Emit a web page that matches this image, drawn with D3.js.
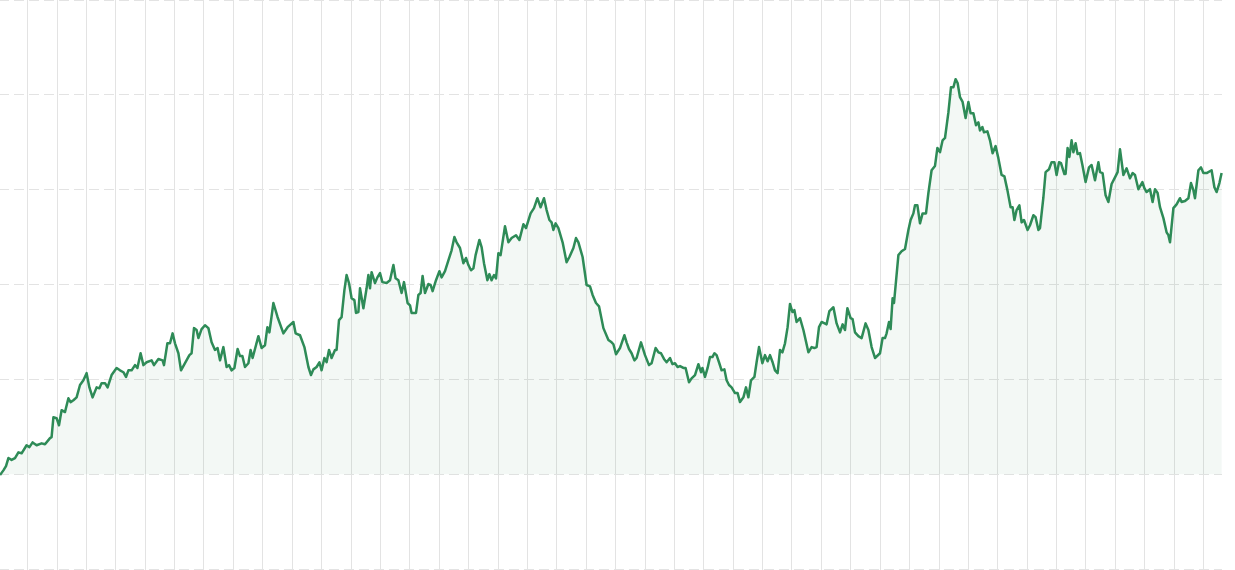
<!DOCTYPE html>
<html>
<head>
<meta charset="utf-8">
<script src="https://cdn.jsdelivr.net/npm/d3@7"></script>
<style>
  body { margin: 0; background: #fff; }
  svg { display: block; }
</style>
</head>
<body>
<div id="chart"></div>
<script>
// trading day index of each reading
var days = [0, 1.7, 3, 4.2, 5.8, 7.5, 9.2, 10.8, 13.3, 14.7, 16.3, 18.3, 20.8, 22.5, 25, 25.8, 26.7, 28.3, 29.5, 30.8,
  32.5, 34.2, 35.3, 36.7, 38.3, 40, 41.7, 43.3, 44.7, 46.3, 48.3, 49.7, 50.8, 52.5, 53.8, 55.8, 58.3, 60, 61.7, 63,
  64.2, 65.8, 67.5, 68.7, 70.3, 71.7, 73.3, 75.8, 77, 79.2, 81.3, 82, 83.7, 85, 86.3, 87.5, 89.2, 90.5, 92.5, 94.7,
  95.8, 97, 98.3, 99.2, 100.8, 102.5, 104.2, 105.8, 107.5, 108.8, 110, 111.7, 113.3, 114.5, 115.8, 117.2, 118.8, 120, 121.2, 122.5,
  124.2, 125.3, 126.3, 129.2, 130.8, 132.5, 133.7, 134.7, 136.7, 138.8, 141.7, 143.8, 146.7, 147.8, 150, 152.2, 154.2, 155.5, 156.7, 158.3,
  159.7, 160.8, 162.2, 163.3, 164.5, 165.8, 167.5, 168.3, 169.5, 170.8, 172.2, 173.3, 174.5, 175.8, 177.2, 178, 179.2, 180, 181.7, 183.3,
  184.2, 185, 185.8, 187.5, 188.7, 190, 191.2, 193.3, 195, 196.7, 197.8, 199.2, 200.8, 202, 203.8, 205, 205.8, 208, 209.2, 210.3,
  211.3, 212.5, 214.2, 215.3, 216.3, 218, 219.7, 220.8, 222.5, 224.2, 225.8, 227.2, 228.3, 230, 231.7, 233, 234.2, 235.5, 236.7, 237.8,
  239.7, 240.8, 242, 243.7, 244.7, 245.8, 247, 248, 249.2, 250.3, 252.5, 254.2, 255.8, 258, 259.7, 261.7, 263, 265.3, 267, 268.7,
  270.3, 272, 273.3, 274.7, 275.8, 276.7, 277.8, 279.2, 281.3, 283.3, 284.7, 286.7, 288, 289.2, 291.3, 293.3, 295, 296.3, 298, 299.5,
  301.7, 304.2, 305.8, 306.7, 308, 310, 310.5, 312.2, 313.3, 314.5, 315.8, 317.2, 318.3, 320.5, 322.5, 324.5, 325.8, 327.8, 329.2, 330.5,
  332, 333.3, 335, 336.2, 337.5, 338.8, 340, 341.7, 342.8, 344.5, 345.8, 347.5, 349.2, 350.5, 351.2, 352.5, 353.8, 355, 356.2, 357.2,
  358.3, 359.5, 360.8, 362.2, 363.3, 364.5, 365.8, 367.5, 368.8, 370, 371.7, 373, 374.2, 375.5, 377.2, 378.3, 379.5, 381.2, 382.5, 383.8,
  385, 386.3, 387.5, 388.8, 390, 391.2, 392.5, 393.8, 395, 396.2, 397.2, 398.3, 400, 401.7, 404.2, 405.8, 407.2, 408.3, 409.5, 410.8,
  413.3, 414.7, 416.7, 418.3, 420, 421.3, 422.5, 423.7, 425.3, 426.3, 427.5, 429.2, 430.8, 432.8, 434.2, 435.8, 437.5, 440, 441.3, 442.5,
  443.3, 444.5, 445.3, 446.3, 447, 449.2, 450.8, 452.5, 454.2, 455.3, 456.7, 457.5, 458.7, 460, 461.3, 463, 464.2, 465.8, 467.5, 468.7,
  470, 471.3, 472.5, 474.2, 475.5, 476.7, 477.8, 478.8, 480, 481.3, 482.8, 484.2, 485.3, 486.7, 488, 489.2, 490, 491.2, 492, 493.7,
  495, 496.3, 497.8, 499.2, 500.8, 502.2, 503.7, 505.3, 506.3, 507.2, 508.3, 509.7, 510.8, 512, 513.8, 515, 516.7, 517.8, 519.2, 520,
  521.7, 522.8, 524.5, 525.8, 527.2, 528.3, 529.5, 530.5, 532.2, 532.8, 533.8, 534.7, 535.8, 536.7, 537.8, 538.8, 540, 541.2, 542.8, 544.5,
  545.8, 547.5, 549.2, 550, 551.3, 552.8, 554.2, 555.8, 557.5, 558.8, 560, 561.7, 563.3, 565, 566.3, 567.5, 569.2, 571.2, 572.2, 573.3,
  575, 576.3, 577.5, 578.8, 580, 581.7, 583.3, 584.2, 585, 586.7, 588.3, 590, 590.8, 592.5, 594.2, 595.5, 596.7, 597.5, 599.2, 600.5,
  601.7, 603.3, 605.8, 607.2, 608.3, 609.7, 610.8];

// cumulative return, %
var returns = [-0.2, 0.8, 1.7, 3.4, 3.0, 3.4, 4.6, 4.4, 6.1, 5.7, 6.7, 6.1, 6.5, 6.3, 7.6, 7.8, 12.0, 11.8, 10.3, 13.5,
  13.1, 16.0, 15.2, 15.6, 16.2, 18.8, 19.8, 21.3, 18.3, 16.2, 18.3, 18.1, 19.2, 19.2, 18.3, 20.9, 22.4, 21.9, 21.5, 20.5,
  21.9, 21.9, 23.0, 22.4, 25.5, 23.0, 23.6, 24.0, 23.0, 24.3, 24.0, 23.0, 27.6, 27.6, 29.7, 27.6, 25.5, 21.9, 23.4, 25.1,
  25.5, 30.8, 30.4, 28.7, 30.6, 31.4, 30.8, 27.8, 26.2, 26.6, 24.0, 26.8, 22.6, 23.0, 21.9, 22.4, 26.4, 24.9, 24.9, 22.6,
  23.4, 26.2, 24.5, 29.1, 26.6, 27.2, 31.0, 29.9, 36.1, 33.1, 29.7, 31.0, 32.1, 29.7, 29.3, 26.8, 22.6, 20.9, 22.1, 22.6,
  23.6, 21.9, 24.5, 23.6, 26.2, 24.5, 26.2, 26.2, 32.5, 33.1, 38.8, 42.0, 40.3, 37.1, 36.7, 34.0, 34.2, 39.2, 35.0, 39.2,
  42.0, 39.2, 42.6, 40.3, 41.5, 42.4, 40.5, 40.3, 40.9, 44.1, 41.3, 40.9, 38.2, 40.5, 36.1, 35.6, 34.0, 34.0, 37.8, 38.2,
  41.8, 38.2, 40.1, 39.9, 38.6, 40.9, 42.8, 41.5, 42.8, 45.1, 47.2, 50.0, 48.9, 47.7, 44.5, 45.6, 44.1, 43.0, 43.4, 46.2,
  49.4, 47.9, 44.5, 40.9, 42.2, 40.9, 42.0, 41.3, 46.6, 46.2, 52.3, 48.9, 49.8, 50.4, 49.4, 52.7, 51.9, 55.0, 56.1, 58.2,
  56.3, 58.2, 55.7, 53.6, 53.1, 51.5, 52.9, 51.9, 48.9, 44.7, 45.8, 47.7, 49.8, 48.9, 45.8, 39.9, 39.6, 37.8, 36.1, 35.4,
  30.8, 28.3, 27.8, 27.4, 25.3, 26.6, 27.2, 29.3, 27.8, 26.4, 25.5, 24.0, 24.5, 27.8, 25.1, 23.0, 23.4, 26.6, 25.7, 25.5,
  24.3, 23.6, 24.5, 23.2, 23.4, 22.6, 22.8, 22.4, 22.4, 19.4, 20.2, 20.9, 23.2, 21.5, 22.4, 20.5, 22.4, 24.7, 24.7, 25.5,
  25.1, 23.6, 21.9, 22.1, 19.8, 18.8, 18.3, 17.1, 17.1, 15.2, 16.2, 18.3, 16.2, 19.8, 20.5, 23.6, 26.8, 23.4, 25.1, 23.8,
  25.1, 23.6, 21.9, 21.3, 26.2, 25.7, 27.6, 31.0, 35.9, 34.2, 34.6, 32.1, 32.9, 30.4, 25.7, 26.8, 26.6, 26.8, 31.0, 32.1,
  31.6, 34.4, 35.2, 31.8, 29.9, 31.6, 30.4, 35.0, 32.9, 32.7, 29.9, 29.1, 28.7, 31.8, 30.4, 26.8, 24.5, 25.5, 28.7, 28.7,
  29.7, 32.1, 30.6, 37.1, 36.1, 46.2, 47.0, 47.5, 51.5, 53.6, 55.0, 56.7, 56.7, 52.9, 55.0, 55.0, 59.3, 64.1, 65.0, 68.8,
  67.9, 70.4, 70.9, 76.3, 81.6, 81.6, 83.3, 82.5, 79.5, 78.5, 75.1, 78.5, 76.1, 76.1, 73.6, 74.2, 72.5, 73.2, 72.1, 72.3,
  70.4, 67.7, 69.2, 66.6, 63.1, 62.8, 59.9, 56.3, 56.3, 53.6, 55.7, 56.7, 53.1, 53.6, 51.5, 52.5, 54.6, 54.2, 51.5, 51.9,
  58.4, 63.7, 64.3, 65.8, 65.8, 63.1, 65.8, 65.6, 63.3, 63.3, 68.8, 66.9, 70.4, 67.9, 69.8, 67.5, 67.7, 65.2, 61.6, 64.7,
  65.2, 62.0, 65.8, 63.7, 63.5, 58.8, 57.4, 61.2, 62.6, 63.7, 68.5, 63.1, 64.5, 62.4, 63.5, 63.1, 60.1, 61.6, 60.3, 59.5,
  60.1, 57.4, 60.1, 59.3, 56.3, 54.0, 51.0, 50.4, 48.9, 56.1, 56.9, 58.2, 57.4, 57.6, 58.2, 61.4, 59.9, 58.2, 64.1, 64.7,
  63.5, 63.5, 64.1, 60.5, 59.5, 61.4, 63.5];

var dayDomain = [0, 611];
var valueDomain = [-20, 100];
var yTicks = [-20, 0, 20, 40, 60, 80, 100];
var xTicks = d3.range(41).map(function(k) { return 13.8 + 14.7 * k; });

var data = days.map(function(d, i) { return {day: d, value: returns[i]}; });

var w = 1235,
    h = 570,
    plotW = 1222,
    plotH = 569;

var svg = d3.select("#chart")
            .append("svg")
            .attr("width", w)
            .attr("height", h);

var x = d3.scaleLinear().domain(dayDomain).range([0, plotW]);
var y = d3.scaleLinear().domain(valueDomain).range([plotH, 0]);

// vertical grid
svg.append("g")
   .selectAll("line")
   .data(xTicks)
   .enter()
   .append("line")
   .attr("x1", function(d) { return Math.floor(x(d)) + 0.5; })
   .attr("x2", function(d) { return Math.floor(x(d)) + 0.5; })
   .attr("y1", 0)
   .attr("y2", plotH + 1)
   .style("stroke", "#e3e3e3")
   .style("stroke-width", 1);

// horizontal dashed grid
svg.append("g")
   .selectAll("line")
   .data(yTicks)
   .enter()
   .append("line")
   .attr("x1", 0)
   .attr("x2", plotW)
   .attr("y1", function(d) { return Math.min(plotH, Math.floor(y(d))) + 0.5; })
   .attr("y2", function(d) { return Math.min(plotH, Math.floor(y(d))) + 0.5; })
   .style("stroke", "#e3e3e3")
   .style("stroke-width", 1)
   .style("stroke-dasharray", "10,5")
   .style("stroke-dashoffset", 1);

var area = d3.area()
             .x(function(d) { return x(d.day); })
             .y0(y(0))
             .y1(function(d) { return y(d.value); });

var line = d3.line()
             .x(function(d) { return x(d.day); })
             .y(function(d) { return y(d.value); });

svg.append("path")
   .datum(data)
   .attr("d", area)
   .style("fill", "#2e8b57")
   .style("fill-opacity", 0.06);

svg.append("path")
   .datum(data)
   .attr("d", line)
   .style("fill", "none")
   .style("stroke", "#2e8b57")
   .style("stroke-width", 2.5)
   .style("stroke-linejoin", "round");
</script>
</body>
</html>
